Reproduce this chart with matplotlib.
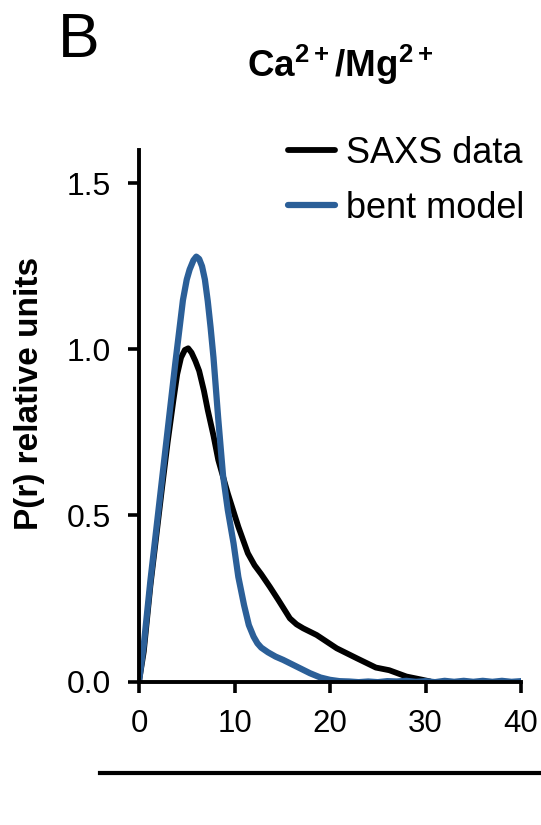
import matplotlib
matplotlib.use("Agg")
import matplotlib.pyplot as plt
from matplotlib.lines import Line2D

plt.rcParams['font.family'] = ['Liberation Sans', 'DejaVu Sans']
plt.rcParams['mathtext.fontset'] = 'custom'
plt.rcParams['mathtext.rm'] = 'Liberation Sans'
plt.rcParams['mathtext.bf'] = 'Liberation Sans:bold'

# P(r) distributions
r_saxs = [0, 0.5, 1.2, 2.4, 3.0, 3.6, 4.0, 4.4, 4.8, 5.15, 5.5, 5.9, 6.3, 6.8,
          7.2, 7.8, 8.3, 9.3, 10.4, 11.4, 12.1, 12.8, 13.7, 14.6, 15.8, 16.5,
          17.2, 18.6, 20.7, 22.8, 24.8, 26.2, 28.0, 29.7, 30.5]
p_saxs = [0, 0.09, 0.29, 0.58, 0.72, 0.846, 0.925, 0.975, 0.998, 1.003, 0.99,
          0.965, 0.935, 0.875, 0.817, 0.74, 0.667, 0.566, 0.466, 0.386, 0.35,
          0.323, 0.285, 0.245, 0.19, 0.172, 0.16, 0.14, 0.10, 0.07, 0.042,
          0.034, 0.015, 0.005, 0]

r_bent = [0, 0.5, 1.2, 2.4, 3.8, 4.6, 5.0, 5.3, 5.7, 6.0, 6.3, 6.6, 6.9, 7.2,
          7.5, 7.8, 8.3, 8.8, 9.3, 9.9, 10.4, 11.0, 11.5, 12.0, 12.4, 12.8,
          13.5, 14.3, 15.1, 16.5, 17.9, 19.0, 20.0, 21.0, 22.0, 23.0, 24.0,
          25.0, 26.0, 27.0, 28.0, 29.0, 30.0, 31.0, 32.0, 33.0, 34.0, 35.0,
          36.0, 37.0, 38.0, 39.0, 40.0]
p_bent = [0, 0.11, 0.305, 0.606, 0.958, 1.148, 1.21, 1.24, 1.268, 1.279, 1.272,
          1.25, 1.21, 1.145, 1.065, 0.975, 0.79, 0.62, 0.516, 0.416, 0.315,
          0.23, 0.17, 0.135, 0.115, 0.102, 0.088, 0.075, 0.065, 0.045, 0.025,
          0.012, 0.005, 0.001, 0, -0.002, 0.0, -0.002, 0.001, 0.0, 0.002,
          -0.001, 0.001, -0.002, 0.002, -0.001, 0.002, -0.001, 0.002, -0.001,
          0.002, -0.001, 0.001]

fig = plt.figure(figsize=(5.41, 8.25), dpi=100)
ax = fig.add_axes([139 / 541, 1 - 681.5 / 825, 382 / 541, 531.5 / 825])

ax.plot(r_saxs, p_saxs, color='black', lw=4.2, label='SAXS data',
        solid_joinstyle='round', solid_capstyle='round')
ax.plot(r_bent, p_bent, color='#2b5f98', lw=4.5, label='bent model',
        solid_joinstyle='round', solid_capstyle='round')

ax.set_xlim(0, 40)
ax.set_ylim(0, 1.6)
ax.set_xticks([0, 10, 20, 30, 40])
ax.set_yticks([0, 0.5, 1.0, 1.5])
ax.set_yticklabels(['0.0', '0.5', '1.0', '1.5'])
for s in ['top', 'right']:
    ax.spines[s].set_visible(False)
for s in ['left', 'bottom']:
    ax.spines[s].set_linewidth(2.8)
ax.tick_params(width=2.6, length=8)
ax.tick_params(axis='x', labelsize=22.5, pad=12)
ax.tick_params(axis='y', labelsize=23, pad=12)

fig.text(29.5 / 541, 1 - 393 / 825, 'P(r) relative units', fontsize=24,
         fontweight='bold', rotation=90, ha='center', va='center')

ax.legend(loc='upper right', bbox_to_anchor=(524 / 541, 1 - 136 / 825),
          bbox_transform=fig.transFigure, frameon=False, fontsize=26,
          handlelength=1.3, handletextpad=0.3, labelspacing=0.55,
          borderpad=0, borderaxespad=0)

fig.text(340 / 541, 1 - 76.7 / 825, r'$\mathbf{Ca^{2+}/Mg^{2+}}$', fontsize=26.5,
         ha='center', va='baseline')
fig.text(58 / 541, 1 - 56.7 / 825, 'B', fontsize=45, ha='left', va='baseline')

fig.add_artist(Line2D([100 / 541, 1.0], [1 - 773 / 825, 1 - 773 / 825],
                      color='black', lw=3, transform=fig.transFigure))

fig.savefig('out.png', dpi=100)
